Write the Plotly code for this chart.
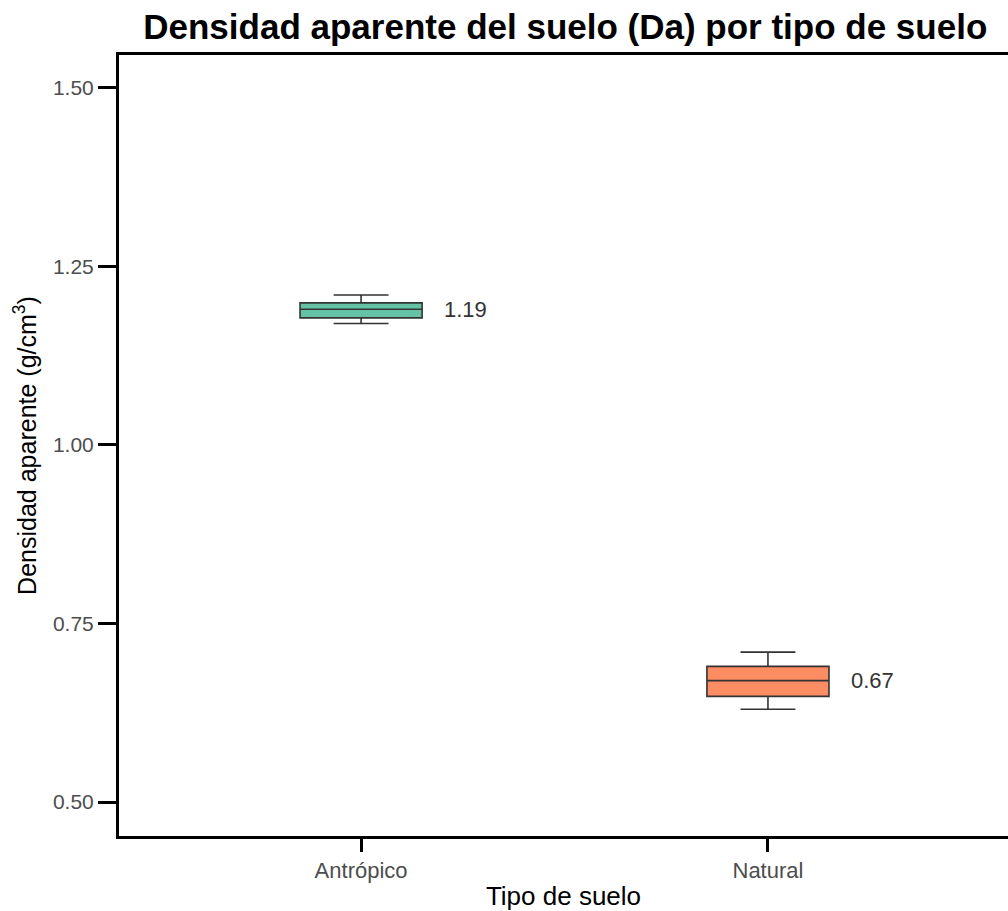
import plotly.graph_objects as go

# Bulk density summary per soil type (g/cm³)
tipos = ["Antrópico", "Natural"]
q1 = [1.178, 0.648]
mediana = [1.19, 0.67]
q3 = [1.199, 0.690]
bigote_inf = [1.17, 0.63]
bigote_sup = [1.21, 0.71]
colores = ["#66C2A5", "#FC8D62"]

y_ticks = [0.50, 0.75, 1.00, 1.25, 1.50]

FONT = "Liberation Sans, Arial, sans-serif"

fig = go.Figure()
for i, t in enumerate(tipos):
    fig.add_trace(go.Box(
        x=[t],
        q1=[q1[i]], median=[mediana[i]], q3=[q3[i]],
        lowerfence=[bigote_inf[i]], upperfence=[bigote_sup[i]],
        width=0.3,
        whiskerwidth=0.45,
        fillcolor=colores[i],
        line=dict(color="#333333", width=1.6),
        boxpoints=False,
        showlegend=False,
        hoverinfo="skip",
    ))
    fig.add_annotation(
        x=i + 0.2, y=mediana[i], xref="x", yref="y",
        text=f"{mediana[i]:.2f}", showarrow=False,
        xanchor="left", yanchor="middle",
        font=dict(family=FONT, size=22, color="#333333"),
    )

fig.update_layout(
    width=1008, height=911,
    margin=dict(l=119, r=0, t=55, b=75),
    paper_bgcolor="white", plot_bgcolor="white",
    title=dict(
        text="<b>Densidad aparente del suelo (Da) por tipo de suelo</b>",
        x=0.502, xref="paper", xanchor="center",
        y=1 - 27 / 911, yref="container", yanchor="middle",
        font=dict(family=FONT, size=35, color="black"),
    ),
    xaxis=dict(
        type="category",
        categoryorder="array", categoryarray=tipos,
        range=[-0.595, 1.59],
        showgrid=False, zeroline=False,
        showline=True, linecolor="black", linewidth=3, mirror=True,
        ticks="outside", ticklen=13, tickwidth=3, tickcolor="black",
        tickfont=dict(family=FONT, size=22, color="#4d4d4d"),
        title=dict(text="Tipo de suelo", standoff=5,
                   font=dict(family=FONT, size=26, color="black")),
    ),
    yaxis=dict(
        range=[0.4525, 1.546],
        tickvals=y_ticks,
        ticktext=[f"{v:.2f}" for v in y_ticks],
        showgrid=False, zeroline=False,
        showline=True, linecolor="black", linewidth=3,
        ticks="outside", ticklen=18, tickwidth=3, tickcolor="black",
        tickfont=dict(family=FONT, size=21, color="#4d4d4d"),
        title=dict(text="Densidad aparente (g/cm<sup>3</sup>)", standoff=10,
                   font=dict(family=FONT, size=25, color="black")),
    ),
)

fig.write_html("out.html")
